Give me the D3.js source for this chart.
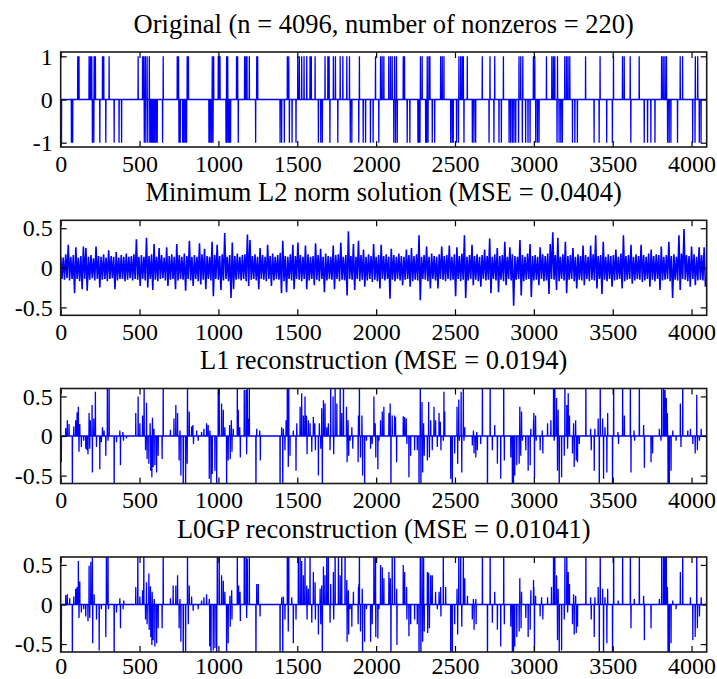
<!DOCTYPE html>
<html>
<head>
<meta charset="utf-8">
<script src="https://cdn.jsdelivr.net/npm/d3@7"></script>
<style>
  body { margin: 0; background: #fff; }
  text { font-family: "Liberation Serif", "Times New Roman", serif; fill: #000; }
</style>
</head>
<body>
<svg id="chart"></svg>
<script>
const N = 4096;
const xTicks = [0, 500, 1000, 1500, 2000, 2500, 3000, 3500, 4000];

const titles = [
  'Original (n = 4096, number of nonzeros = 220)',
  'Minimum L2 norm solution (MSE = 0.0404)',
  'L1 reconstruction (MSE = 0.0194)',
  'L0GP reconstruction (MSE = 0.01041)'
];

// original signal: sample indices of the +1 and -1 entries
const origPos = [108, 116, 180, 189, 197, 212, 220, 265, 273, 307, 491, 519, 527, 537, 548, 562, 650, 739, 747, 802, 810, 961, 970, 999, 1005, 1010, 1052, 1059, 1115, 1122, 1166, 1175, 1181, 1196, 1243, 1249, 1437, 1446, 1503, 1513, 1528, 1543, 1560, 1581, 1589, 1613, 1676, 1694, 1702, 1729, 1742, 1772, 1789, 1814, 1831, 1894, 1996, 2028, 2038, 2049, 2080, 2091, 2102, 2117, 2129, 2172, 2180, 2281, 2292, 2324, 2335, 2341, 2409, 2419, 2430, 2525, 2536, 2546, 2553, 2578, 2673, 2722, 2752, 2807, 2906, 2917, 2930, 2997, 3006, 3080, 3114, 3124, 3133, 3150, 3196, 3207, 3217, 3228, 3328, 3420, 3505, 3562, 3573, 3611, 3668, 3810, 3820, 3831, 3841, 3928, 3943, 4024, 4039];
const origNeg = [5, 68, 76, 201, 210, 248, 286, 339, 370, 386, 530, 540, 552, 565, 572, 580, 588, 595, 604, 612, 646, 750, 758, 773, 781, 790, 798, 940, 948, 957, 966, 1048, 1054, 1063, 1071, 1077, 1126, 1236, 1391, 1401, 1418, 1450, 1467, 1492, 1634, 1649, 1659, 1707, 1757, 1836, 1846, 1890, 1918, 1933, 1964, 1981, 2017, 2112, 2123, 2134, 2197, 2214, 2265, 2271, 2278, 2314, 2320, 2329, 2356, 2371, 2473, 2483, 2489, 2510, 2522, 2557, 2610, 2620, 2631, 2716, 2747, 2779, 2794, 2843, 2853, 2864, 2874, 2885, 2903, 2927, 2948, 2963, 2976, 3012, 3023, 3033, 3147, 3160, 3171, 3181, 3245, 3260, 3276, 3382, 3414, 3462, 3498, 3615, 3700, 3721, 3742, 3768, 3848, 3858, 3869, 3911, 4007, 4022, 4049, 4060];

// minimum L2 norm solution: upper / lower extremes of each block of 16 samples
const l2Hi = [
  .14, .13, .17, .29, .14, .16, .26, .13, .15, .27, .25, .14, .16, .12, .27, .15,
  .14, .17, .13, .22, .15, .14, .2, .13, .16, .14, .18, .14, .15, .17, .36, .14,
  .16, .14, .38, .15, .17, .3, .14, .25, .16, .13, .26, .15, .17, .14, .3, .16,
  .14, .18, .15, .34, .14, .16, .14, .31, .17, .24, .15, .14, .33, .16, .29, .15,
  .17, .44, .14, .16, .32, .15, .18, .14, .16, .17, .42, .35, .15, .17, .14, .25,
  .16, .14, .29, .15, .18, .14, .16, .19, .34, .15, .14, .17, .29, .15, .32, .16,
  .14, .28, .17, .14, .15, .31, .16, .24, .14, .18, .15, .14, .28, .16, .17, .32,
  .14, .16, .46, .15, .3, .14, .34, .16, .23, .14, .17, .15, .3, .14, .16, .29,
  .15, .17, .14, .24, .16, .14, .18, .15, .14, .23, .16, .25, .15, .17, .41, .14,
  .16, .27, .14, .18, .15, .14, .17, .27, .15, .16, .28, .14, .17, .26, .15, .18,
  .41, .14, .16, .29, .15, .17, .14, .16, .23, .15, .37, .14, .17, .25, .15, .16,
  .33, .14, .26, .17, .15, .14, .35, .16, .14, .18, .3, .15, .16, .14, .26, .17,
  .15, .18, .3, .45, .16, .38, .14, .17, .33, .15, .16, .25, .14, .17, .15, .28,
  .16, .14, .28, .17, .41, .15, .16, .33, .14, .17, .15, .16, .23, .14, .18, .41,
  .15, .16, .29, .14, .17, .15, .29, .16, .14, .18, .23, .15, .17, .16, .27, .14,
  .16, .33, .15, .17, .14, .41, .18, .49, .16, .15, .27, .17, .14, .26, .16, .26
];
const l2Lo = [
  -.14, -.15, -.13, -.16, -.14, -.32, -.14, -.17, -.27, -.14, -.29, -.15, -.13, -.16, -.14, -.25,
  -.15, -.14, -.17, -.14, -.13, -.27, -.16, -.14, -.14, -.17, -.15, -.13, -.16, -.14, -.15, -.23,
  -.14, -.16, -.25, -.14, -.28, -.15, -.17, -.14, -.13, -.16, -.23, -.15, -.14, -.27, -.16, -.14,
  -.15, -.29, -.14, -.16, -.23, -.14, -.17, -.21, -.15, -.27, -.14, -.16, -.36, -.14, -.15, -.28,
  -.16, -.14, -.17, -.38, -.27, -.15, -.14, -.16, -.14, -.17, -.23, -.15, -.14, -.16, -.27, -.14,
  -.15, -.17, -.14, -.23, -.16, -.14, -.15, -.32, -.17, -.31, -.14, -.16, -.27, -.14, -.15, -.17,
  -.14, -.27, -.16, -.14, -.22, -.15, -.17, -.14, -.31, -.16, -.14, -.15, -.27, -.14, -.17, -.15,
  -.16, -.35, -.14, -.15, -.28, -.14, -.17, -.15, -.24, -.16, -.14, -.18, -.15, -.17, -.26, -.14,
  -.16, -.14, -.39, -.15, -.17, -.14, -.16, -.22, -.15, -.14, -.24, -.17, -.15, -.16, -.41, -.14,
  -.15, -.17, -.26, -.14, -.16, -.26, -.14, -.15, -.17, -.14, -.16, -.15, -.36, -.14, -.17, -.15,
  -.38, -.16, -.14, -.22, -.15, -.17, -.24, -.14, -.16, -.15, -.32, -.14, -.16, -.31, -.15, -.17,
  -.22, -.14, -.16, -.48, -.15, -.14, -.35, -.17, -.15, -.14, -.37, -.16, -.15, -.22, -.14, -.17,
  -.16, -.33, -.14, -.15, -.28, -.17, -.14, -.16, -.32, -.15, -.14, -.17, -.26, -.15, -.16, -.22,
  -.14, -.17, -.15, -.16, -.26, -.14, -.33, -.15, -.17, -.14, -.24, -.16, -.15, -.14, -.26, -.17,
  -.15, -.14, -.2, -.16, -.14, -.15, -.18, -.16, -.14, -.24, -.15, -.17, -.14, -.28, -.16, -.15,
  -.14, -.17, -.38, -.15, -.16, -.28, -.14, -.15, -.17, -.24, -.14, -.22, -.16, -.15, -.16, -.24
];

// L1 reconstruction: [sample index, value], all other samples zero
const l1Spikes = [[4,-.33],[32,.1],[42,.2],[53,.15],[74,-.8],[83,.12],[95,.2],[104,.3],[112,.37],[116,-.2],[121,.15],[131,-.14],[146,-.06],[159,-.16],[167,-.18],[173,-.23],[180,.29],[184,-.16],[188,.2],[199,.39],[201,-.46],[210,.22],[220,.56],[227,-.14],[248,-.42],[258,-.08],[265,.11],[275,.07],[286,-.25],[296,.8],[300,-.06],[307,.7],[339,-.8],[354,-.08],[375,.07],[379,-.37],[394,.05],[398,-.06],[417,-.03],[476,.29],[491,.5],[502,.16],[519,.26],[529,.7],[538,-.18],[544,.42],[548,-.29],[559,-.35],[567,.16],[571,-.44],[578,-.52],[582,.23],[586,-.39],[591,.09],[597,-.37],[608,-.46],[618,-.25],[643,-.29],[650,.8],[696,.08],[718,.22],[730,.39],[741,.29],[751,-.31],[756,.07],[762,-.5],[777,-.8],[792,-.8],[802,-.35],[804,.7],[815,.31],[830,.12],[838,.14],[842,-.1],[862,.07],[872,-.06],[893,.05],[908,.09],[925,.16],[935,.14],[942,-.54],[946,.07],[953,-.8],[961,-.48],[978,-.44],[989,-.7],[999,.8],[1005,.7],[1020,.41],[1031,.33],[1041,.11],[1052,-.8],[1062,-.31],[1071,.14],[1075,-.29],[1082,.2],[1086,-.2],[1094,.09],[1120,.8],[1126,.33],[1135,.11],[1139,-.27],[1164,.58],[1175,.58],[1179,-.23],[1183,.7],[1189,.22],[1196,.7],[1238,-.8],[1243,.09],[1262,.07],[1266,-.31],[1391,-.8],[1401,.11],[1408,-.8],[1412,.09],[1422,-.18],[1429,.2],[1437,.8],[1443,-.39],[1446,.7],[1454,-.25],[1475,.07],[1492,-.44],[1497,.16],[1518,.37],[1528,.54],[1539,.26],[1549,.5],[1558,.26],[1562,-.23],[1570,.2],[1581,.16],[1592,-.2],[1602,.24],[1611,.16],[1615,-.18],[1634,-.5],[1640,.16],[1649,-.16],[1655,.35],[1659,-.8],[1666,.45],[1676,.41],[1687,.11],[1697,.16],[1708,-.18],[1712,.8],[1727,.5],[1731,-.23],[1740,.7],[1751,.41],[1772,.8],[1782,.29],[1793,.7],[1812,.37],[1816,-.33],[1822,.2],[1826,-.25],[1835,-.06],[1846,.11],[1852,-.16],[1886,-.33],[1888,.26],[1894,.7],[1901,-.27],[1910,.26],[1914,-.5],[1927,-.8],[1939,-.06],[1965,-.16],[1975,-.1],[1986,.5],[1994,.16],[1998,-.27],[2011,-.42],[2018,-.06],[2028,.2],[2039,.31],[2049,.37],[2081,.29],[2089,.41],[2094,-.8],[2102,.26],[2117,.26],[2123,.24],[2130,-.33],[2172,.25],[2181,.24],[2191,.22],[2195,-.1],[2208,-.52],[2219,-.25],[2244,-.18],[2261,-.18],[2272,-.8],[2280,.8],[2284,-.8],[2291,.43],[2295,-.46],[2301,.16],[2305,-.25],[2325,-.31],[2333,.43],[2338,-.27],[2346,.2],[2356,-.18],[2367,.37],[2377,.2],[2388,-.14],[2399,.29],[2407,.18],[2411,-.18],[2426,-.06],[2430,.56],[2435,.31],[2473,-.54],[2483,-.8],[2498,-.22],[2513,.37],[2517,-.35],[2524,.46],[2528,-.06],[2539,.56],[2543,-.46],[2553,.8],[2557,-.06],[2562,.11],[2610,-.12],[2617,.07],[2621,-.22],[2632,-.27],[2638,.05],[2642,-.18],[2663,-.1],[2674,.8],[2706,-.8],[2723,.8],[2737,-.18],[2752,.14],[2769,-.35],[2790,-.54],[2809,.8],[2813,-.31],[2854,-.27],[2864,-.8],[2871,-.8],[2879,-.5],[2892,-.37],[2907,-.35],[2911,.37],[2917,-.25],[2922,.31],[2928,-.06],[2949,-.18],[2964,-.44],[2977,-.37],[2981,.09],[2998,.2],[3000,.29],[3004,-.54],[3011,.26],[3015,-.06],[3040,-.18],[3053,.07],[3057,-.22],[3087,.16],[3108,.2],[3125,.8],[3129,-.06],[3133,.8],[3144,.48],[3150,-.44],[3154,.33],[3161,-.8],[3176,-.52],[3193,-.25],[3197,.8],[3209,.39],[3214,-.16],[3218,.54],[3226,.26],[3245,-.22],[3252,.16],[3256,-.39],[3265,.2],[3269,-.31],[3277,-.33],[3288,-.1],[3330,.8],[3360,.09],[3364,-.18],[3383,-.44],[3387,.09],[3408,.22],[3415,-.8],[3421,.8],[3436,.22],[3442,-.54],[3451,.11],[3463,-.46],[3468,.29],[3499,-.8],[3506,.8],[3533,.05],[3537,-.1],[3563,.8],[3574,.26],[3612,.8],[3616,-.46],[3635,.07],[3639,-.06],[3669,.8],[3696,.14],[3701,-.4],[3743,-.33],[3753,-.22],[3796,.09],[3806,-.06],[3811,.8],[3823,.8],[3832,.58],[3840,.48],[3847,.29],[3851,-.8],[3859,-.8],[3870,-.44],[3881,.07],[3902,-.06],[3929,.41],[3933,-.14],[3944,.8],[3976,.07],[3993,.09],[4008,-.1],[4023,-.22],[4033,.52],[4037,-.18],[4050,-.06],[4061,.09]];

// L0GP reconstruction: [sample index, value], all other samples zero
const l0Spikes = [[4,-.55],[32,.12],[42,.13],[57,.08],[74,-.8],[83,.1],[95,.2],[104,.22],[112,.55],[116,-.17],[121,.29],[131,-.1],[146,-.06],[159,-.15],[173,-.21],[180,.49],[184,-.17],[191,.54],[201,.8],[203,-.49],[212,.13],[227,-.19],[244,-.58],[258,-.06],[286,-.41],[290,.8],[300,.8],[303,-.06],[339,-.8],[354,-.1],[375,.08],[379,-.3],[396,-.06],[400,.05],[476,.22],[489,.8],[502,.1],[519,.18],[527,.8],[538,-.19],[544,.28],[548,-.25],[559,.39],[561,-.32],[569,.23],[571,-.41],[578,-.51],[580,.16],[586,-.45],[593,.07],[597,-.53],[608,-.49],[618,-.3],[643,-.3],[650,.8],[696,.08],[713,.24],[730,.24],[741,.37],[751,-.3],[756,.07],[762,-.47],[777,-.8],[792,-.8],[804,.8],[809,-.25],[815,.24],[830,.1],[840,-.08],[872,-.06],[893,.05],[908,.09],[925,.13],[942,.07],[945,-.53],[953,-.8],[967,-.58],[978,-.55],[989,-.8],[993,.8],[1005,.8],[1020,.37],[1031,.3],[1041,.16],[1052,-.8],[1062,-.49],[1073,.11],[1075,-.28],[1084,.18],[1086,-.19],[1120,.8],[1128,.24],[1137,.16],[1139,-.21],[1164,.8],[1175,.8],[1179,-.17],[1183,.58],[1196,.8],[1238,-.8],[1243,.26],[1253,.26],[1264,-.15],[1391,-.8],[1401,.09],[1408,-.8],[1412,.1],[1422,-.19],[1437,.8],[1443,-.34],[1446,.8],[1465,.09],[1475,-.49],[1492,-.19],[1507,.8],[1518,.8],[1528,.55],[1539,.37],[1549,.59],[1560,.24],[1562,-.19],[1570,.2],[1581,.8],[1592,-.23],[1602,.41],[1613,.28],[1615,-.19],[1634,-.38],[1645,.2],[1649,-.25],[1655,.24],[1659,-.8],[1666,.48],[1676,.37],[1687,.8],[1697,.8],[1708,-.23],[1712,.26],[1729,.41],[1731,-.19],[1740,.8],[1761,.8],[1772,.37],[1782,.8],[1803,.8],[1814,.31],[1816,-.47],[1824,.18],[1826,-.38],[1835,-.06],[1846,-.28],[1856,.16],[1886,-.25],[1888,.22],[1891,.26],[1894,.8],[1901,-.34],[1912,.2],[1914,-.8],[1927,-.47],[1939,-.06],[1965,-.47],[1975,-.25],[1986,.8],[1996,.8],[1998,-.41],[2011,-.43],[2018,-.06],[2028,.5],[2039,.47],[2049,.33],[2081,.41],[2090,.33],[2094,-.8],[2102,.8],[2117,.8],[2130,.2],[2132,-.51],[2172,.5],[2181,.41],[2193,.22],[2195,-.19],[2208,-.4],[2219,-.25],[2244,-.19],[2261,-.25],[2272,-.8],[2280,.8],[2284,-.8],[2291,.8],[2295,-.47],[2301,.59],[2305,-.34],[2325,.41],[2327,-.36],[2333,.4],[2338,-.3],[2346,.37],[2356,.37],[2377,.16],[2388,-.06],[2399,.16],[2409,.22],[2411,-.15],[2426,.8],[2441,.22],[2473,-.8],[2483,-.8],[2498,-.25],[2513,.2],[2517,-.38],[2524,.8],[2536,.8],[2543,-.28],[2553,.8],[2562,.33],[2579,.11],[2610,-.19],[2617,.07],[2621,-.32],[2632,.07],[2634,-.25],[2674,.8],[2706,-.8],[2723,.8],[2737,-.23],[2752,.16],[2769,-.32],[2790,-.53],[2809,.8],[2813,-.25],[2854,-.28],[2864,-.8],[2871,-.8],[2879,-.53],[2892,-.41],[2907,-.34],[2911,.33],[2919,-.3],[2922,.16],[2949,-.17],[2964,-.41],[2977,-.32],[2981,.18],[2998,.31],[3000,.22],[3004,-.8],[3011,.11],[3040,-.15],[3049,.09],[3057,-.19],[3087,.09],[3112,.22],[3125,.8],[3133,.8],[3144,.37],[3150,-.45],[3154,.2],[3161,-.8],[3176,-.58],[3193,-.19],[3197,.8],[3209,.8],[3214,-.1],[3218,.41],[3226,.26],[3245,-.25],[3252,.13],[3256,-.38],[3265,.11],[3269,-.36],[3277,-.28],[3330,.8],[3360,.09],[3364,-.19],[3383,-.41],[3387,.09],[3408,.22],[3415,-.8],[3421,.8],[3436,.2],[3442,-.8],[3451,.09],[3463,-.49],[3468,.2],[3499,-.8],[3506,.8],[3535,.05],[3563,.8],[3612,.8],[3616,-.3],[3637,.07],[3669,.8],[3696,.11],[3701,-.45],[3743,-.3],[3796,.07],[3811,.8],[3823,.8],[3832,.8],[3840,.8],[3847,.22],[3851,-.8],[3859,-.8],[3870,-.49],[3881,.05],[3902,-.06],[3929,.41],[3944,.8],[3993,.09],[4008,-.45],[4023,-.41],[4033,.8],[4037,-.3],[4050,-.15],[4061,.09]];

// layout
const width = 717, height = 679;
const left = 60.7, right = 706.7;
const panelTop = [52, 220.3, 388.5, 557];
const panelH = 95;

const svg = d3.select('#chart').attr('width', width).attr('height', height);

const x = d3.scaleLinear().domain([0, N]).range([left, right]);

// sparse list -> full 4096-sample signal
function fromSpikes(pairs) {
  const s = new Array(N).fill(0);
  pairs.forEach(([i, v]) => { s[i] = v; });
  return s.map((v, i) => [i, v]);
}

const origSig = new Array(N).fill(0);
origPos.forEach(i => { origSig[i] = 1; });
origNeg.forEach(i => { origSig[i] = -1; });

const l2Pts = [];
l2Hi.forEach((h, i) => {
  l2Pts.push([i * 16, h]);
  l2Pts.push([i * 16 + 8, l2Lo[i]]);
});

const panels = [
  { domain: [-1.1, 1.1], ticks: [-1, 0, 1], pts: origSig.map((v, i) => [i, v]), sw: 1.3 },
  { domain: [-0.6, 0.6], ticks: [-0.5, 0, 0.5], pts: l2Pts, sw: 1.6 },
  { domain: [-0.6, 0.6], ticks: [-0.5, 0, 0.5], pts: fromSpikes(l1Spikes), sw: 1.3 },
  { domain: [-0.6, 0.6], ticks: [-0.5, 0, 0.5], pts: fromSpikes(l0Spikes), sw: 1.3 }
];

panels.forEach((p, k) => {
  const top = panelTop[k];
  const bottom = top + panelH;
  const y = d3.scaleLinear().domain(p.domain).range([bottom, top]);
  const g = svg.append('g');

  g.append('clipPath').attr('id', 'clip' + k)
    .append('rect')
    .attr('x', left).attr('y', top)
    .attr('width', right - left).attr('height', panelH);

  // title
  g.append('text')
    .attr('x', (left + right) / 2)
    .attr('y', top - 19.5)
    .attr('text-anchor', 'middle')
    .style('font-size', '26.5px')
    .text(titles[k]);

  // data
  const line = d3.line().x(d => x(d[0])).y(d => y(d[1]));
  g.append('path')
    .datum(p.pts)
    .attr('clip-path', `url(#clip${k})`)
    .attr('d', line)
    .attr('fill', 'none')
    .attr('stroke', '#0000ff')
    .attr('stroke-width', p.sw)
    .attr('stroke-linejoin', 'bevel');

  // axes, ticks pointing inward on all four sides
  const fmt = d => String(d);
  const pad = k === 3 ? 4.5 : 7.5;
  const axes = [
    g.append('g').attr('transform', `translate(0,${bottom})`)
      .call(d3.axisBottom(x).tickValues(xTicks).tickSize(-6).tickPadding(pad).tickFormat(fmt)),
    g.append('g').attr('transform', `translate(0,${top})`)
      .call(d3.axisTop(x).tickValues(xTicks).tickSize(-6).tickFormat('')),
    g.append('g').attr('transform', `translate(${left},0)`)
      .call(d3.axisLeft(y).tickValues(p.ticks).tickSize(-6).tickPadding(8).tickFormat(fmt)),
    g.append('g').attr('transform', `translate(${right},0)`)
      .call(d3.axisRight(y).tickValues(p.ticks).tickSize(-6).tickFormat(''))
  ];
  axes.forEach(a => {
    a.select('.domain').remove();
    a.selectAll('.tick line').attr('stroke', '#000').attr('stroke-width', 1.2);
    a.selectAll('.tick text')
      .style('font-family', '"Liberation Serif", "Times New Roman", serif')
      .style('font-size', '24px')
      .attr('fill', '#000');
  });

  // box
  g.append('rect')
    .attr('x', left).attr('y', top)
    .attr('width', right - left).attr('height', panelH)
    .attr('fill', 'none')
    .attr('stroke', '#1a1a1a')
    .attr('stroke-width', 1.6);
});
</script>
</body>
</html>
